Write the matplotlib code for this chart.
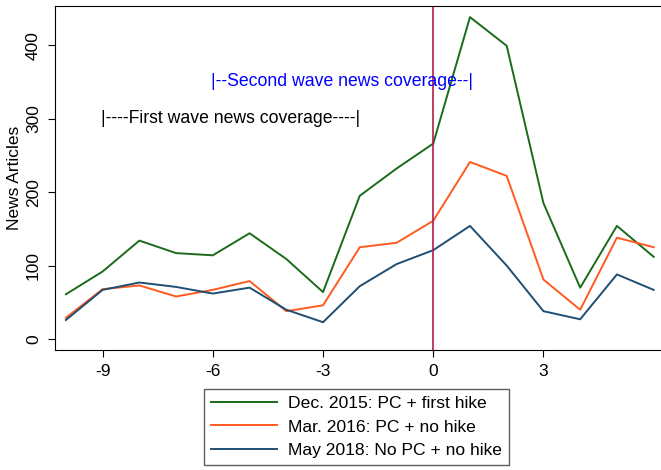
import matplotlib.pyplot as plt

plt.rcParams["font.family"] = ["Liberation Sans", "DejaVu Sans"]
plt.rcParams["axes.unicode_minus"] = False

# event time (weeks relative to announcement)
weeks = [-10, -9, -8, -7, -6, -5, -4, -3, -2, -1, 0, 1, 2, 3, 4, 5, 6]

dec2015 = [61, 92, 134, 117, 114, 144, 109, 64, 195, 232, 266, 438, 399, 185, 70, 154, 112]
mar2016 = [29, 68, 73, 58, 67, 79, 38, 46, 125, 131, 161, 241, 222, 81, 40, 138, 125]
may2018 = [26, 67, 77, 71, 62, 70, 40, 23, 72, 102, 121, 154, 100, 38, 27, 88, 67]

labels = ["Dec. 2015: PC + first hike",
          "Mar. 2016: PC + no hike",
          "May 2018: No PC + no hike"]
colors = ["#1a6b1a", "#ff5a1f", "#1f4e72"]

fig = plt.figure(figsize=(6.61, 4.70), dpi=100)
ax = fig.add_axes([0.083, 0.255, 0.917, 0.732])

for vals, lab, col in zip([dec2015, mar2016, may2018], labels, colors):
    ax.plot(weeks, vals, color=col, linewidth=1.4, label=lab)

ax.axvline(0, color="#b01e4a", linewidth=1.2)

ax.text(-6.05, 350, "|--Second wave news coverage--|", color="blue",
        fontsize=12.7, va="center", ha="left")
ax.text(-9.05, 300, "|----First wave news coverage----|", color="black",
        fontsize=12.7, va="center", ha="left")

ax.set_xlim(-10.3, 6.2)
ax.set_ylim(-15, 453)
ax.set_xticks([-9, -6, -3, 0, 3])
ax.set_yticks([0, 100, 200, 300, 400])
ax.tick_params(axis="both", labelsize=12.5, direction="out", length=5, pad=5)
for t in ax.get_yticklabels():
    t.set_rotation(90)
    t.set_va("center")
ax.set_ylabel("News Articles", fontsize=12.5, labelpad=3)

ax.spines["right"].set_visible(False)

fig.legend(loc="upper center", bbox_to_anchor=(0.539, 0.172), ncol=1,
           fontsize=12.6, frameon=True, fancybox=False, edgecolor="#333333",
           handlelength=3.8, handletextpad=0.6, labelspacing=0.45,
           borderpad=0.4, borderaxespad=0)

fig.savefig("out.png", dpi=100)
